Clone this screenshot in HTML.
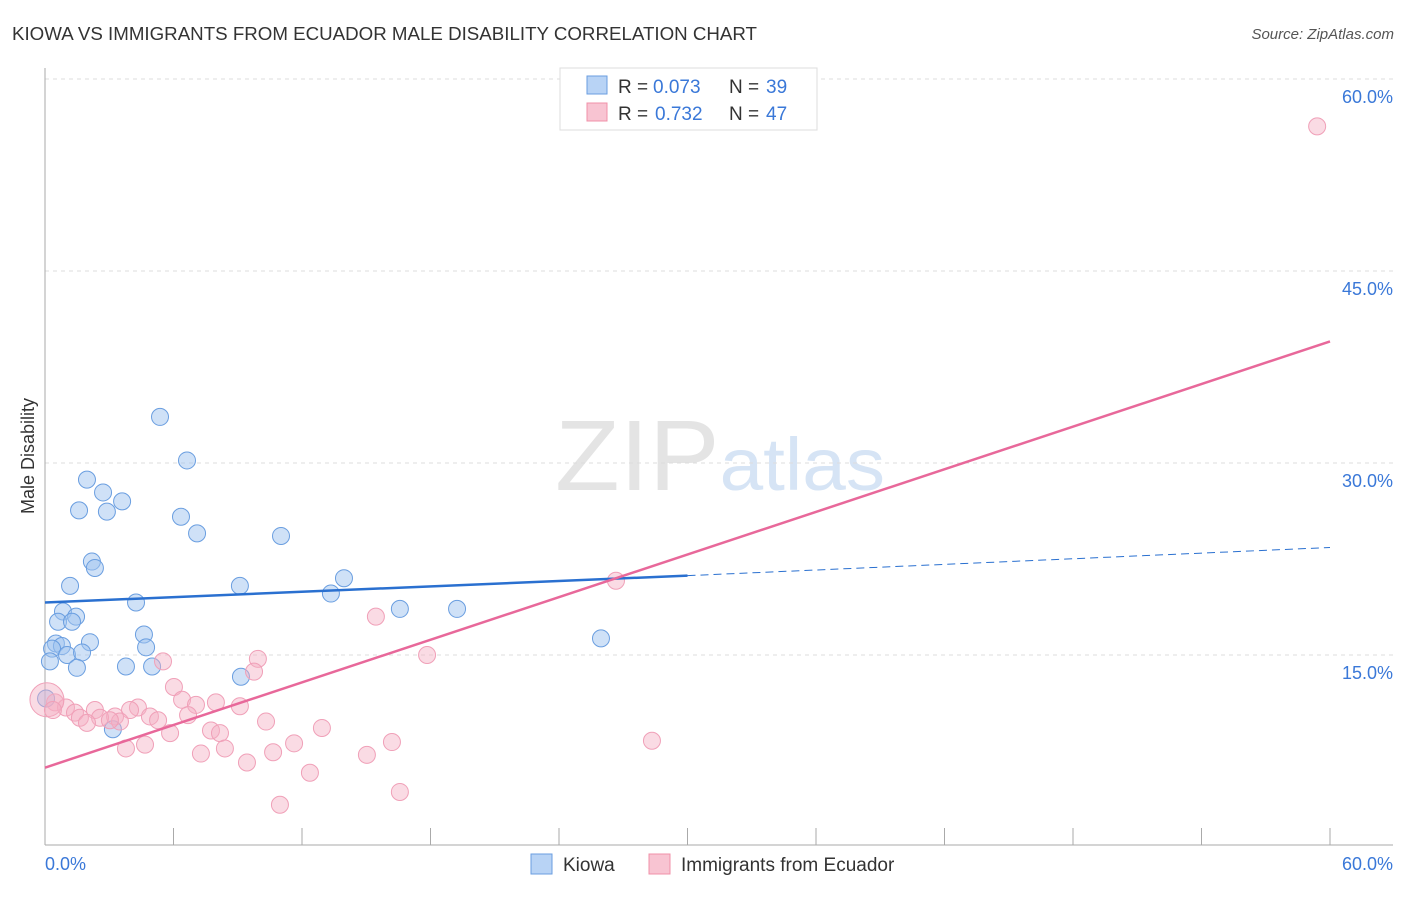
<!DOCTYPE html>
<html><head><meta charset="utf-8"><style>
body{margin:0;background:#fff;font-family:"Liberation Sans",sans-serif;}
svg text{font-family:"Liberation Sans",sans-serif;}
</style></head><body>
<svg id="chart" width="1406" height="892" xmlns="http://www.w3.org/2000/svg">
<text x="12" y="40" font-size="18" fill="#333" textLength="745" lengthAdjust="spacingAndGlyphs">KIOWA VS IMMIGRANTS FROM ECUADOR MALE DISABILITY CORRELATION CHART</text>
<text x="1394" y="39" font-size="15" fill="#555" text-anchor="end" font-style="italic">Source: ZipAtlas.com</text>
<text x="720" y="490" font-size="100" text-anchor="middle" fill="#e4e4e4" font-family="Liberation Serif" textLength="330" lengthAdjust="spacingAndGlyphs">ZIP<tspan fill="#d6e4f5" font-family="Liberation Sans" font-size="74">atlas</tspan></text>
<g id="grid"></g>
<g id="axes"></g>
<g id="marks"></g>
<g>
<rect x="560" y="68" width="257" height="62" fill="#fff" stroke="#ddd"/>
<rect x="587" y="76" width="20" height="18" fill="#b8d3f5" stroke="#6a9ee0"/>
<rect x="587" y="103" width="20" height="18" fill="#f8c4d2" stroke="#f090a8"/>
<text x="618" y="93" font-size="19" fill="#333">R =</text>
<text x="653" y="93" font-size="19" fill="#3a78d8">0.073</text>
<text x="729" y="93" font-size="19" fill="#333">N =</text>
<text x="766" y="93" font-size="19" fill="#3a78d8">39</text>
<text x="618" y="120" font-size="19" fill="#333">R =</text>
<text x="655" y="120" font-size="19" fill="#3a78d8">0.732</text>
<text x="729" y="120" font-size="19" fill="#333">N =</text>
<text x="766" y="120" font-size="19" fill="#3a78d8">47</text>
</g>
<text transform="translate(34,456) rotate(-90)" font-size="18" fill="#333" text-anchor="middle">Male Disability</text>
<g>
<rect x="531" y="854" width="21" height="20" fill="#b8d3f5" stroke="#6a9ee0"/>
<text x="563" y="871" font-size="19" fill="#333">Kiowa</text>
<rect x="649" y="854" width="21" height="20" fill="#f8c4d2" stroke="#f090a8"/>
<text x="681" y="871" font-size="19" fill="#333">Immigrants from Ecuador</text>
</g>
</svg>
<script>
const yTicks=[15,30,45,60];
const yTickLabels=["15.0%","30.0%","45.0%","60.0%"];
const xTickLabels=["0.0%","60.0%"];
const kiowaX=[5.37,6.63,1.96,2.71,3.60,1.59,2.89,6.35,7.10,11.02,2.19,2.33,1.17,9.10,13.96,4.25,13.35,0.84,1.45,16.57,19.24,0.61,1.26,25.96,4.62,0.51,2.10,0.79,4.72,0.33,1.03,1.73,0.23,1.49,3.78,5.00,9.15,3.17,0.05];
const kiowaY=[33.6,30.2,28.7,27.7,27.0,26.3,26.2,25.8,24.5,24.3,22.3,21.8,20.4,20.4,21.0,19.1,19.8,18.4,18.0,18.6,18.6,17.6,17.6,16.3,16.6,15.9,16.0,15.7,15.6,15.5,15.0,15.2,14.5,14.0,14.1,14.1,13.3,9.2,11.6];
const ecuX=[59.4,26.66,15.45,17.84,5.51,9.94,9.76,6.02,6.40,7.98,7.05,9.10,0.47,0.98,1.40,2.33,4.34,3.97,4.90,6.68,3.27,1.63,2.57,5.28,10.32,1.96,3.50,3.03,7.75,8.17,5.84,12.93,3.78,4.67,8.40,11.63,10.65,16.20,28.34,7.28,15.03,9.43,12.37,16.57,10.97,0.09,0.37];
const ecuY=[56.3,20.8,18.0,15.0,14.5,14.7,13.7,12.5,11.5,11.3,11.1,11.0,11.3,10.9,10.5,10.7,10.9,10.7,10.2,10.3,10.2,10.1,10.1,9.9,9.8,9.7,9.8,9.9,9.1,8.9,8.9,9.3,7.7,8.0,7.7,8.1,7.4,8.2,8.3,7.3,7.2,6.6,5.8,4.3,3.3,11.5,10.7];
const kiowaTrend=[19.1,21.2,23.4]; // at x=0,30,60
const ecuTrend=[6.2,39.5]; // at x=0,60
const NS="http://www.w3.org/2000/svg";
const sx=v=>45+v/60*1285;
const sy=v=>847-v/15*192;
function mk(tag,attrs,parent){const e=document.createElementNS(NS,tag);for(const k in attrs)e.setAttribute(k,attrs[k]);parent.appendChild(e);return e;}
const grid=document.getElementById('grid'),axes=document.getElementById('axes'),marks=document.getElementById('marks');
yTicks.forEach((t,i)=>{
 const l=mk('line',{x1:45,x2:1393,y1:sy(t),y2:sy(t),stroke:'#ddd','stroke-dasharray':'4,4'},grid);
 
 
 const tx=mk('text',{x:1393,y:sy(t)+24,'font-size':18,fill:'#3a78d8','text-anchor':'end'},axes);
 tx.textContent=yTickLabels[i];
 
 
});
const al=mk('line',{x1:45,x2:45,y1:68,y2:845,stroke:'#aaa'},axes);


const bl=mk('line',{x1:45,x2:1393,y1:845,y2:845,stroke:'#aaa'},axes);


for(let i=1;i<=10;i++){
 const t=mk('line',{x1:sx(i*6),x2:sx(i*6),y1:828,y2:845,stroke:'#aaa'},axes);
 
 
}
[[0,'start',45],[60,'end',1393]].forEach((d,i)=>{
 const tx=mk('text',{x:d[2],y:870,'font-size':18,fill:'#3a78d8','text-anchor':d[1]},axes);
 tx.textContent=xTickLabels[i];
 
 
});
kiowaX.forEach((x,i)=>{
 const c=mk('circle',{cx:sx(x),cy:sy(kiowaY[i]),r:8.5,fill:'rgba(160,196,240,0.5)',stroke:'#6a9ee0','stroke-width':1},marks);
 
 
});
ecuX.forEach((x,i)=>{
 const c=mk('circle',{cx:sx(x),cy:sy(ecuY[i]),r:i==45?17:8.5,fill:'rgba(245,176,196,0.45)',stroke:'#f0a0b8','stroke-width':1},marks);
 
 
});
const k1=mk('line',{x1:sx(0),y1:sy(kiowaTrend[0]),x2:sx(30),y2:sy(kiowaTrend[1]),stroke:'#2a70d0','stroke-width':2.5},marks);


const k2=mk('line',{x1:sx(30),y1:sy(kiowaTrend[1]),x2:sx(60),y2:sy(kiowaTrend[2]),stroke:'#2a70d0','stroke-width':1,'stroke-dasharray':'8,5'},marks);


const e1=mk('line',{x1:sx(0),y1:sy(ecuTrend[0]),x2:sx(60),y2:sy(ecuTrend[1]),stroke:'#e8689a','stroke-width':2.5},marks);


</script>
</body></html>
